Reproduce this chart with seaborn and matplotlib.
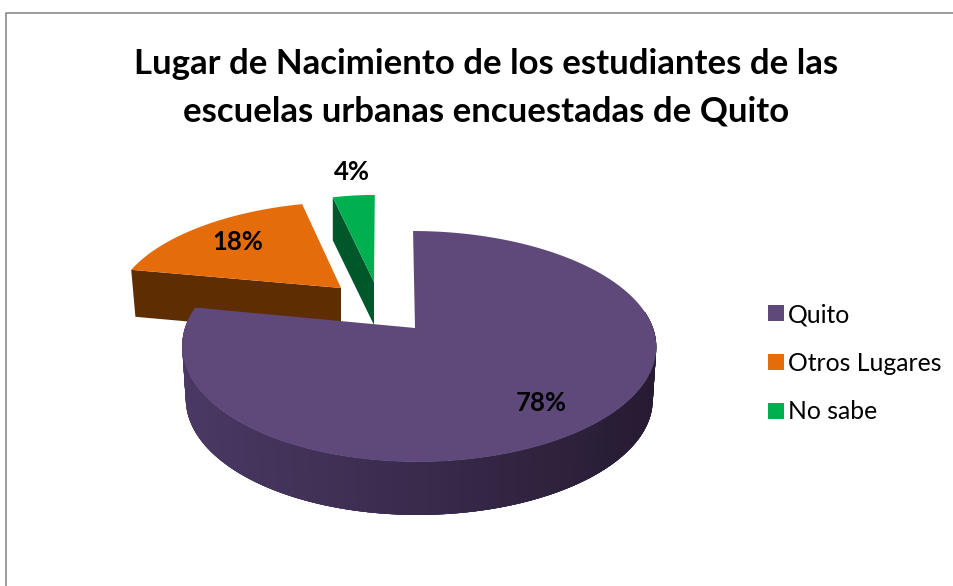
import numpy as np
import matplotlib
matplotlib.use("Agg")
import matplotlib.pyplot as plt
import seaborn as sns
from matplotlib.patches import Polygon, Patch
from matplotlib.lines import Line2D
from matplotlib.colors import to_rgb

# data
categories = ["Quito", "Otros Lugares", "No sabe"]
values = [78, 18, 4]
title_lines = ["Lugar de Nacimiento de los estudiantes de las",
               "escuelas urbanas encuestadas de Quito"]

# colours
top_colors = ["#5F497A", "#E46C0A", "#00B050"]
wall_colors = ["#3B2C4F", "#5F2D02", "#00572A"]
wall_left, wall_mid, wall_right = "#4A3964", "#392B4C", "#261B32"

# projection of each exploded slice (tip x/y, half axes, perspective, depth)
geom = [
    dict(xt=415, yt=328, a=234, b=112.5, k=0.16, x0=0.06, bow=4, depth=53, inset=0.985, cx=419),
    dict(xt=341, yt=288, a=222, b=100, k=0.16, x0=-0.30, bow=0, depth=47, inset=0.98, cx=341),
    dict(xt=374, yt=282, a=195, b=101, k=0.16, x0=-0.03, bow=0, depth=43, inset=1.0, cx=374),
]
label_pos = [(541, 403), (238, 242), (352, 172)]

sns.set_theme(style="white")
plt.rcParams["font.family"] = ["Lato", "DejaVu Sans"]

fig = plt.figure(figsize=(9.54, 5.86), dpi=100, facecolor="white")
ax = fig.add_axes([0, 0, 1, 1])

# the pie supplies the angular extent of each slice
wedges, _ = ax.pie(values, startangle=90, counterclock=False, radius=1)
spans = [(w.theta1, w.theta2) for w in wedges]
for w in wedges:
    w.remove()
ax.set_aspect("auto")
ax.set_xlim(0, 954)
ax.set_ylim(586, 0)
ax.axis("off")


def project(g, x, y):
    w = 1 + g["k"] * y
    X = g["xt"] + g["a"] * ((g["x0"] + x) / w - g["x0"]) + g["bow"] * x ** 2
    Y = g["yt"] - g["b"] * y / w
    return X, Y


def lower(g, X, Y):
    return g["cx"] + (X - g["cx"]) * g["inset"], Y + g["depth"]


def arc(theta1, theta2, n):
    t = np.radians(np.linspace(theta1, theta2, n))
    return np.cos(t), np.sin(t)


def mix(X):
    u = (X - 182) / (656 - 182)
    c0, c1, c2 = map(np.array, (to_rgb(wall_left), to_rgb(wall_mid), to_rgb(wall_right)))
    if u < 0.5:
        return tuple(c0 + (c1 - c0) * u * 2)
    return tuple(c1 + (c2 - c1) * (u - 0.5) * 2)


def wall_quad(g, X1, Y1, X2, Y2, color, z):
    bx1, by1 = lower(g, X1, Y1)
    bx2, by2 = lower(g, X2, Y2)
    ax.add_patch(Polygon([(X1, Y1), (X2, Y2), (bx2, by2), (bx1, by1)], closed=True,
                         facecolor=color, edgecolor="none", zorder=z))


def top_face(g, span, color, z):
    xs, ys = arc(span[0], span[1], 240)
    X, Y = project(g, xs, ys)
    tx, ty = project(g, 0.0, 0.0)
    pts = np.vstack([[tx, ty], np.column_stack([X, Y])])
    ax.add_patch(Polygon(pts, closed=True, facecolor=color, edgecolor="none", zorder=z))


# orange and green sit behind the large slice
for i in (1, 2):
    g = geom[i]
    # the radial edge that faces the viewer
    ex, ey = arc(spans[i][1], spans[i][1], 1)
    X1, Y1 = project(g, ex[0], ey[0])
    X2, Y2 = project(g, 0.0, 0.0)
    wall_quad(g, X1, Y1, X2, Y2, wall_colors[i], 2 + i)
    top_face(g, spans[i], top_colors[i], 3 + i)

# large slice: outer wall with a horizontal shade, then its top
g = geom[0]
xs, ys = arc(spans[0][0], spans[0][1], 400)
keep = ys < 0.15
X, Y = project(g, xs[keep], ys[keep])
for j in range(len(X) - 1):
    end = min(j + 4, len(X) - 1)
    wall_quad(g, X[j], Y[j], X[end], Y[end], mix(0.5 * (X[j] + X[j + 1])), 8)
top_face(g, spans[0], top_colors[0], 9)

# percentage labels
for v, (lx, ly) in zip(values, label_pos):
    ax.text(lx, ly, f"{v}%", ha="center", va="center", fontsize=18.5,
            fontweight="bold", color="black", zorder=12)

# title
for line, ty in zip(title_lines, (64, 111)):
    ax.text(486, ty, line, ha="center", va="center", fontsize=25,
            fontweight="bold", color="black", zorder=12)

# legend
handles = [Patch(facecolor=c, edgecolor="none") for c in top_colors]
leg = ax.legend(handles, categories, loc="upper left", bbox_to_anchor=(768 / 954, 1 - 303 / 586),
                bbox_transform=fig.transFigure, frameon=False, fontsize=17.8,
                handlelength=0.64, handleheight=0.64, handletextpad=0.15,
                labelspacing=1.04, borderpad=0, borderaxespad=0, labelcolor="black")

# chart frame: only top and left edges are visible
fig.add_artist(Line2D([6 / 954, 6 / 954, 1], [0, 1 - 13 / 586, 1 - 13 / 586],
                      transform=fig.transFigure, color="#8A8A8A", lw=1.2))

fig.savefig("out.png", dpi=100, facecolor="white")
